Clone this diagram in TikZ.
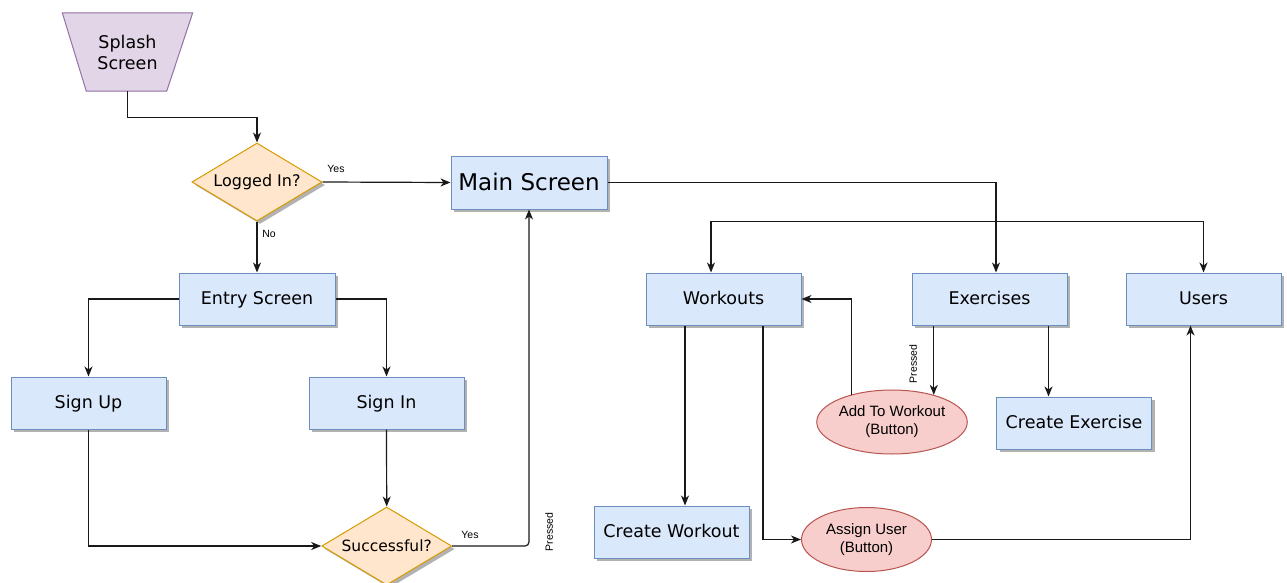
\documentclass[tikz,border=0pt]{standalone}
\usepackage{fontspec}
\setmainfont{DejaVu Sans}
\newfontfamily\arialf{Liberation Sans}
\usetikzlibrary{shapes.geometric,arrows.meta,shadows,backgrounds}
\definecolor{bfill}{HTML}{DAE8FC}
\definecolor{bline}{HTML}{6C8EBF}
\definecolor{ofill}{HTML}{FFE6CC}
\definecolor{oline}{HTML}{D79B00}
\definecolor{rfill}{HTML}{F8CECC}
\definecolor{rline}{HTML}{B85450}
\definecolor{pfill}{HTML}{E1D5E7}
\definecolor{pline}{HTML}{9673A6}
\tikzset{
  shad/.style={drop shadow={shadow xshift=3pt,shadow yshift=-3pt,fill=black,opacity=0.3}},
  box/.style={rectangle,draw=bline,fill=bfill,line width=1pt,minimum width=155pt,minimum height=52pt,inner sep=0pt,shad,text depth=0.25ex,font=\fontsize{17.5}{21}\selectfont},
  dia/.style={diamond,draw=oline,fill=ofill,line width=1pt,minimum width=130pt,minimum height=78pt,aspect=1.667,inner sep=0pt,shad},
  btn/.style={ellipse,draw=rline,fill=rfill,line width=1pt,minimum width=130pt,minimum height=64pt,inner sep=0pt,align=center,font=\arialf\fontsize{15}{18}\selectfont},
  lbl/.style={inner sep=0pt,font=\arialf\fontsize{10.5}{12}\selectfont},
  conn/.style={line width=1.2pt,draw=black!90},
  tip/.tip={Stealth[length=10pt,width=8pt,inset=3pt]},
  arr/.style={conn,-tip},
  darr/.style={conn,tip-tip}
}
\begin{document}
\begin{tikzpicture}[x=1pt,y=-1pt]
\useasboundingbox (0,0) rectangle (1287,583);
% splash trapezoid
\node[minimum width=130pt,minimum height=78pt,inner sep=0pt] (splash) at (127.5,52) {};
\fill[black,opacity=0.3,xshift=3pt,yshift=-3pt] (splash.north west) -- (splash.north east) -- ([xshift=-26pt]splash.south east) -- ([xshift=24pt]splash.south west) -- cycle;
\filldraw[draw=pline,fill=pfill,line width=1pt] (splash.north west) -- (splash.north east) -- ([xshift=-26pt]splash.south east) -- ([xshift=24pt]splash.south west) -- cycle;
\node[align=center,font=\fontsize{17.5}{21}\selectfont] at (splash.center) {Splash\\Screen};

\node[dia,font=\fontsize{16}{19}\selectfont] (logged) at (257,182) {Logged In?};
\node[box,font=\fontsize{23}{27}\selectfont,minimum width=156pt,minimum height=53pt] (main) at (529,182.5) {Main Screen};
\node[box,minimum width=156pt] (entry) at (257,299) {Entry Screen};
\node[box] (signup) at (88.5,403) {Sign Up};
\node[box] (signin) at (386.5,403) {Sign In};
\node[dia,font=\fontsize{15.5}{19}\selectfont] (succ) at (386.7,546) {Successful?};

\node[box] (wk) at (723.5,299) {Workouts};
\node[box] (ex) at (989.5,299) {Exercises};
\node[box] (us) at (1203.5,299) {Users};
\node[box] (cex) at (1074,423) {Create Exercise};
\node[box] (cw) at (671.5,532) {Create Workout};
\node[btn] (addw) at (892,422) {Add To Workout\\(Button)};
\node[btn] (au) at (866.5,539.5) {Assign User\\(Button)};

% connectors
\draw[arr] (splash.south) -- ++(0,26) -| (logged.north);
\draw[arr] (logged.east) -- (main.west);
\draw[arr] (logged.south) -- (entry.north);
\draw[arr] (entry.west) -| (signup.north);
\draw[arr] (entry.east) -| (signin.north);
\draw[arr] (signup.south) |- (succ.west);
\draw[arr] (signin.south) -- (succ.north);
\draw[arr,rounded corners=4pt] (succ.east) -| (main.south);
\draw[arr] (main.east) -| ([xshift=6.5pt]ex.north);
\draw[darr] ([xshift=-12.5pt]wk.north) -- ++(0,-51) -| (us.north);
\draw[arr] (addw.146.7) |- (wk.east);
\draw[arr] (addw.33.3 |- ex.south) -- (addw.33.3);
\draw[arr] ([xshift=-25.5pt]cex.north |- ex.south) -- ([xshift=-25.5pt]cex.north);
\draw[arr] ([xshift=13.5pt]cw.north |- wk.south) -- ([xshift=13.5pt]cw.north);
\draw[arr] ([xshift=39.5pt]wk.south) |- (au.west);
\draw[arr] (au.east) -| ([xshift=-13pt]us.south);

% labels
\node[lbl] (lyes1) at (336,169) {Yes};
\node[lbl] (lno) at (269,234) {No};
\node[lbl] (lyes2) at (470,535) {Yes};
\node[lbl,rotate=90] (lp1) at (549,532) {Pressed};
\node[lbl,rotate=90] (lp2) at (913,364) {Pressed};
\end{tikzpicture}
\end{document}
